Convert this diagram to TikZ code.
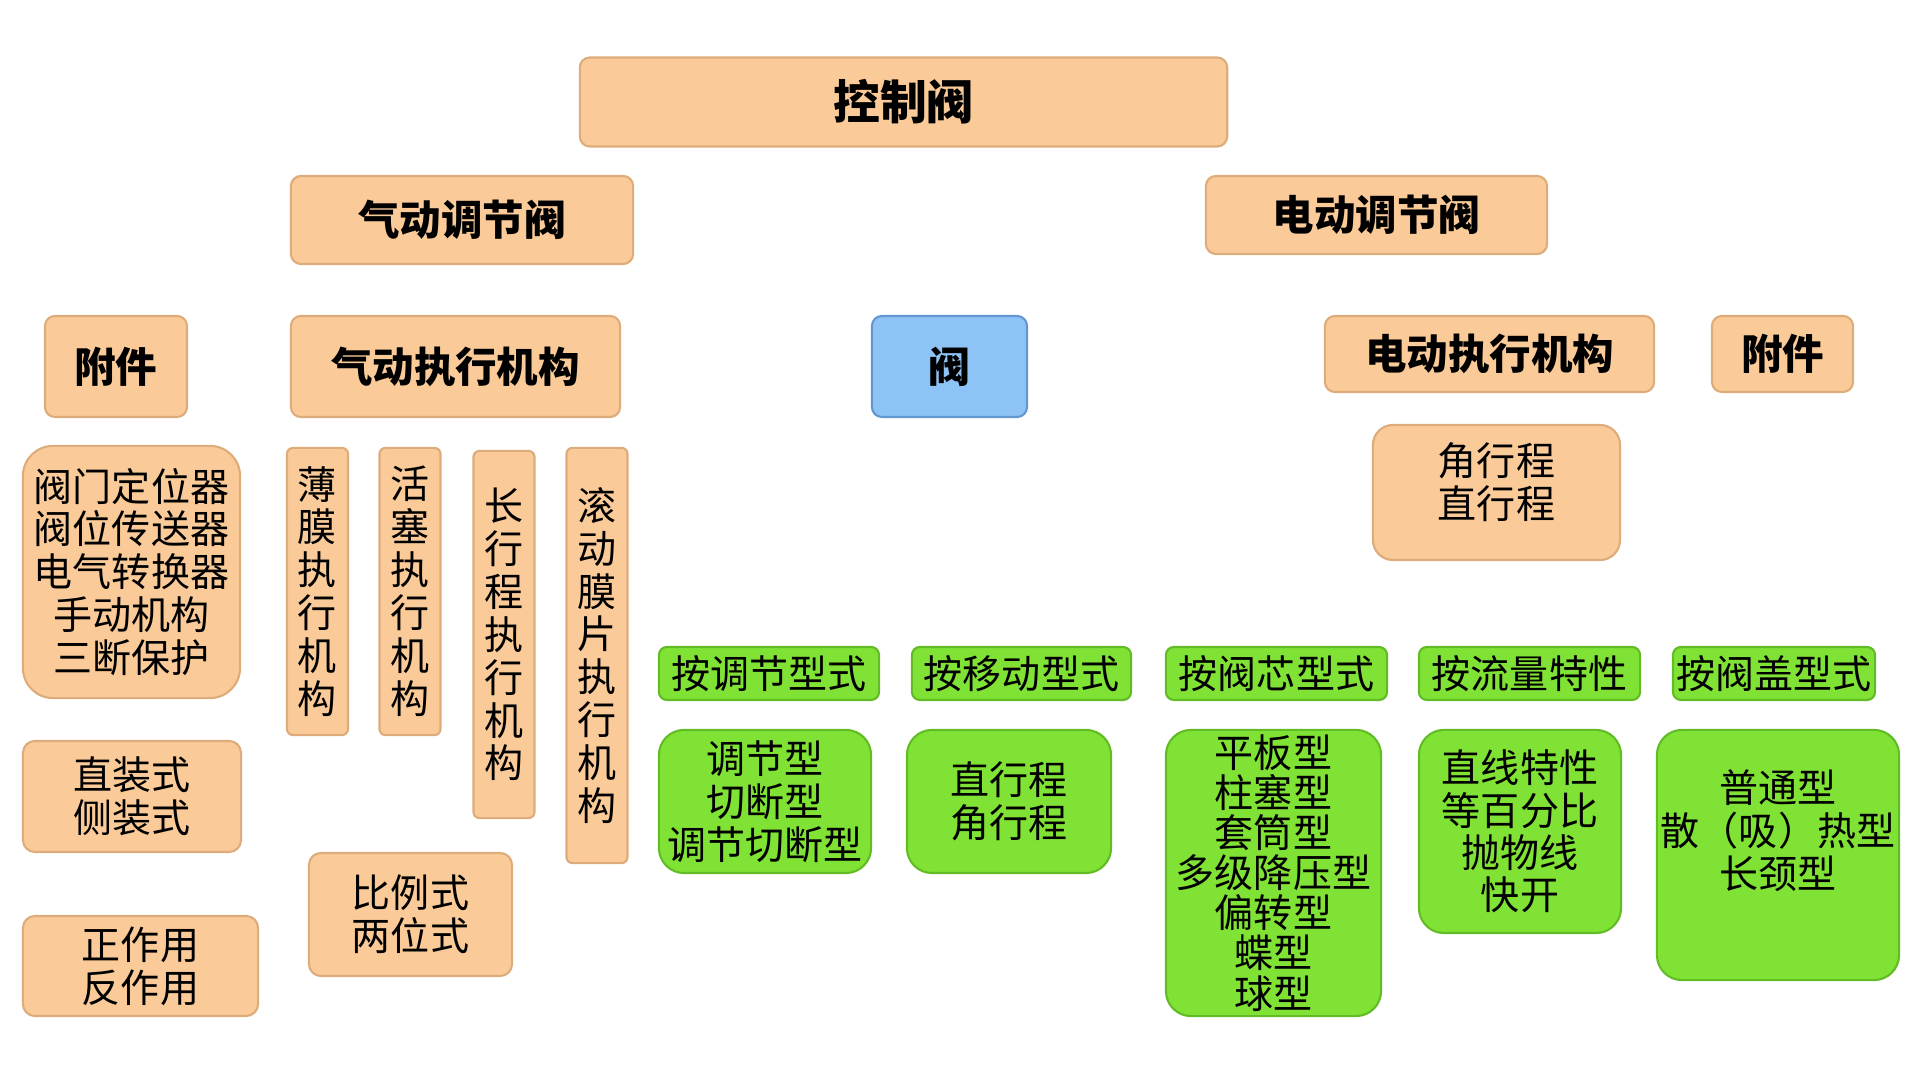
\documentclass[tikz,border=0pt]{standalone}
\usepackage{fontspec}
\setmainfont{Noto Sans CJK SC}
\usepackage{tikz}

\definecolor{peach}{RGB}{250,203,152}
\definecolor{peachline}{RGB}{222,172,122}
\definecolor{leaf}{RGB}{128,226,52}
\definecolor{leafline}{RGB}{98,188,38}
\definecolor{sky}{RGB}{142,196,245}
\definecolor{skyline}{RGB}{100,150,210}

\begin{document}
\begin{tikzpicture}[x=0.01cm, y=-0.01cm,
  box/.style={draw=peachline, line width=0.6pt, fill=peach, rounded corners=0.1cm, inner sep=0pt, align=center, font=\fontsize{11.1}{12.2}\selectfont},
  head/.style={box, font=\fontsize{11.8}{13}\selectfont\bfseries},
  gbox/.style={draw=leafline, line width=0.6pt, fill=leaf, rounded corners=0.25cm, inner sep=0pt, align=center, font=\fontsize{11.1}{12.2}\selectfont},
  ghead/.style={gbox, rounded corners=0.08cm, minimum height=0.53cm},
  strip/.style={box, rounded corners=0.06cm, minimum width=0.61cm},
  words/.style={align=center, inner sep=0pt, font=\fontsize{11.1}{12.2}\selectfont}]
\useasboundingbox (0,0) rectangle (1920,1080);

% top levels
\node (kzf) [head, minimum width=6.47cm, minimum height=0.89cm, font=\fontsize{13.3}{15}\selectfont\bfseries] at (903.5,102) {控制阀};
\node (qdtj) [head, minimum width=3.42cm, minimum height=0.88cm] at (462,220) {气动调节阀};
\node (ddtj) [head, minimum width=3.41cm, minimum height=0.78cm] at (1376.5,215) {电动调节阀};

\node (fj1) [head, minimum width=1.42cm, minimum height=1.01cm] at (116,366.5) {附件};
\node (qdzx) [head, minimum width=3.29cm, minimum height=1.01cm] at (455.5,366.5) {气动执行机构};
\node (fa) [head, draw=skyline, fill=sky, minimum width=1.55cm, minimum height=1.01cm] at (949.5,366.5) {阀};
\node (ddzx) [head, minimum width=3.29cm, minimum height=0.76cm] at (1489.5,354) {电动执行机构};
\node (fj2) [head, minimum width=1.41cm, minimum height=0.76cm] at (1782.5,354) {附件};

% pneumatic side
\node (fjlist) [box, rounded corners=0.3cm, minimum width=2.17cm, minimum height=2.52cm] at (131.5,572) {阀门定位器\\阀位传送器\\电气转换器\\手动机构\\三断保护};
\node (zzs) [box, rounded corners=0.12cm, minimum width=2.18cm, minimum height=1.11cm] at (132,796.5) {直装式\\侧装式};
\node (zzy) [box, rounded corners=0.12cm, minimum width=2.35cm, minimum height=1.0cm] at (140.5,966) {正作用\\反作用};

\node (bm) [strip, minimum height=2.87cm] at (317.5,591.5) {薄\\膜\\执\\行\\机\\构};
\node (hs) [strip, minimum height=2.87cm] at (410,591.5) {活\\塞\\执\\行\\机\\构};
\node (cxc) [strip, minimum height=3.67cm] at (504,634.5) {长\\行\\程\\执\\行\\机\\构};
\node (gd) [strip, minimum height=4.15cm] at (597,655.5) {滚\\动\\膜\\片\\执\\行\\机\\构};
\node (blsh) [box, rounded corners=0.12cm, minimum width=2.03cm, minimum height=1.23cm] at (410.5,914.5) {比例式\\两位式};

% electric side
\node (jxc) [box, rounded corners=0.2cm, minimum width=2.47cm, minimum height=1.35cm] at (1496.5,492.5) {};
\node (jxctxt) [words] at (1496.5,482) {角行程\\直行程};

% valve classes
\node (g1) [ghead, minimum width=2.2cm] at (769,673.5) {按调节型式};
\node (g2) [ghead, minimum width=2.19cm] at (1021.5,673.5) {按移动型式};
\node (g3) [ghead, minimum width=2.21cm] at (1276.5,673.5) {按阀芯型式};
\node (g4) [ghead, minimum width=2.21cm] at (1529.5,673.5) {按流量特性};
\node (g5) [ghead, minimum width=2.02cm] at (1774,673.5) {按阀盖型式};

\node (t1) [gbox, minimum width=2.12cm, minimum height=1.43cm] at (765,801.5) {调节型\\切断型\\调节切断型};
\node (t2) [gbox, minimum width=2.04cm, minimum height=1.43cm] at (1009,801.5) {直行程\\角行程};
\node (t3) [gbox, minimum width=2.15cm, minimum height=2.86cm, font=\fontsize{11.1}{11.4}\selectfont] at (1273.5,873) {平板型\\柱塞型\\套筒型\\多级降压型\\偏转型\\蝶型\\球型};
\node (t4) [gbox, minimum width=2.02cm, minimum height=2.03cm, font=\fontsize{11.1}{12}\selectfont] at (1520,831.5) {直线特性\\等百分比\\抛物线\\快开};
\node (t5) [gbox, minimum width=2.42cm, minimum height=2.5cm] at (1778,855) {};
\node (t5txt) [words] at (1778,831) {普通型\\散（吸）热型\\长颈型};

\end{tikzpicture}
\end{document}
